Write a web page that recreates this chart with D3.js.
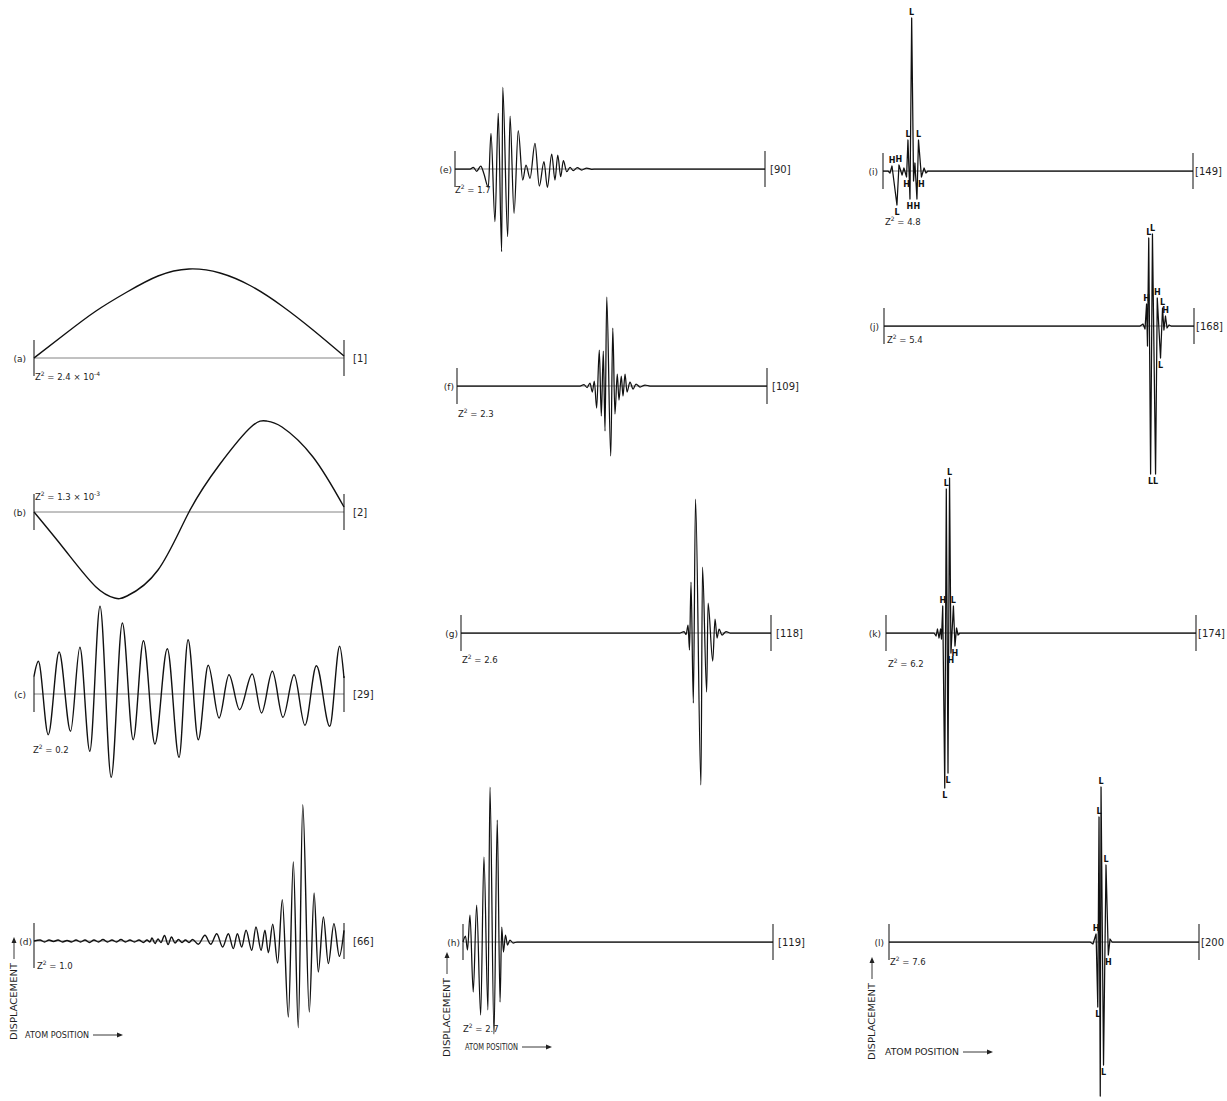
<!DOCTYPE html>
<html>
<head>
<meta charset="utf-8">
<script src="https://cdn.jsdelivr.net/npm/d3@7"></script>
<style>
  body { margin: 0; background: #fff; }
  text { font-family: 'DejaVu Sans', sans-serif; fill: #1e1e1e; }
</style>
</head>
<body>
<div id="chart"></div>
<script>
// atom position along the chain (0-200) and displacement
const atomsA = [0, 20, 40, 60, 80, 100, 120, 140, 160, 180, 200];
const dispA  = [0, 24, 47, 66, 82, 89, 85, 72, 52, 28, 2];

const atomsB = [0, 20, 40, 52, 60, 80, 100, 120, 140, 150, 160, 180, 200];
const dispB  = [0, -38, -75, -86, -84, -58, 0, 48, 85, 91, 85, 55, 5];

const atomsC = [0, 2.8, 9.2, 16.2, 23.6, 29.6, 36, 42.6, 49.8, 57, 64, 70.6, 78, 86, 93.6, 99.4, 106, 112.4, 119.4, 125.8,
                132.6, 140.8, 146.8, 153.8, 160.6, 167.8, 174.8, 182.2, 190.8, 197.2, 200];
const dispC  = [17.7, 32.7, -40.7, 42, -37.3, 46.7, -57.3, 87.7, -83.3, 71, -45.7, 53.3, -50, 45.3, -63.3, 54.3, -45.7, 28.7, -24, 19.3,
                -15.7, 20, -19, 22.7, -23.3, 19.3, -31.3, 28.3, -32.3, 47.7, 16];

const atomsD = [0, 3.9, 6.8, 9.7, 12.6, 15.5, 18.4, 21.3, 24.2, 27.1, 30, 32.9, 35.8, 38.7, 41.6, 44.5, 47.4, 50.3, 53.2, 56.1,
                59, 61.9, 64.8, 67.7, 70.6, 72.9, 74.8, 76.1, 78.1, 80, 81.9, 84.2, 86.5, 88.7, 91, 93.2, 95.5, 97.7, 100, 102.3,
                106, 110.3, 114, 117.9, 121.7, 125.4, 128.6, 131.2, 134, 136.8, 140.5, 143.2, 146.5, 149, 151.2, 154, 157.2, 160.2, 164.1, 167.3,
                170.5, 173.4, 177.6, 180.7, 183.4, 186.7, 189.9, 193.5, 197, 200];
const dispD  = [0, 1, -1, 1, -0.5, 1, -1, 0.5, -1, 1, -1, 1, -1.5, 1, -1, 1.5, -1, 1, -1, 1.5,
                -1, 1, -1, 1, -1.5, 1, -1, 3, -2.5, 2, -1.5, 5.5, -3.5, 4, -2, 1.5, -1.5, 1, -1.5, 1.5,
                -3.3, 5.7, -3.3, 7.3, -6, 7.3, -7.6, 7.3, -6, 10.7, -9.3, 14, -9.3, 10.7, -11.7, 16.7, -22, 41.4, -76, 79,
                -86.6, 136.3, -71, 48, -31, 24, -22.6, 17.4, -15.3, 10.7];

const atomsE = [0, 9.7, 11.8, 14, 16.6, 18.7, 21.5, 23.2, 25.8, 27.9, 30.1, 30.8, 34, 35.5, 38.1, 40.8, 43.7, 45.8, 48.4, 51.6,
                54.4, 57.4, 59.6, 62.4, 64.5, 66.3, 68.2, 69.9, 72.1, 74.2, 76.3, 78.9, 81.7, 85, 88.2, 91.4, 200];
const dispE  = [0, 0, 1.7, -2.3, 3, -5, -18.3, 35.7, -52.7, 55.7, -82.7, 81.7, -67.7, 53, -44.3, 38.3, -11, 4, -9.3, 25.7,
                -17, 7.3, -18.3, 15, -11, 14, -7.7, 8.3, -2.7, 1.7, -1.7, 1.3, -1, 1, -0.3, 0, 0];

const atomsF = [0, 79.4, 81.9, 83.9, 85.8, 87.3, 88.6, 90.1, 91.8, 93.1, 94.4, 95.5, 96.6, 99.2, 100.5, 101.9, 103.4, 104.5, 106, 107.1,
                108.4, 109.7, 111.6, 113.6, 115.5, 118.1, 121.3, 124.5, 200];
const dispF  = [0, 0, 1.5, -1.5, 3, -6, 5, -22, 36, -30, 35, -45, 89, -70, 58, -28, 12, -14, 10, -10,
                12, -6, 4, -3, 2, -1, 1, 0, 0];

const atomsG = [0, 141.3, 143.9, 145.2, 146.5, 147.4, 148.4, 149.9, 151.3, 154.8, 155.8, 158.5, 159.4, 162.4, 163.9, 165.2, 166.5, 168.4, 171, 173.6, 200];
const dispG  = [0, 0, 1.5, -1.5, 8, -17, 51, -70, 134, -152, 66, -59, 30, -28, 14, -5, 4, -2, 1.5, 0, 0];

const atomsH = [0, 1.6, 2.9, 4.5, 6.6, 8.8, 11.4, 13.5, 16.1, 17.4, 20, 22.1, 23.9, 25, 26.1, 27.4, 28.7, 30.3, 32.3, 34.8, 200];
const dispH  = [0, 6, -8, 27, -50, 37, -73, 85, -68, 155, -92, 122, -60, 15, -10, 7, -3, 2, -1, 0, 0];

// heavy (H) / light (L) atom marks
const atomsI = [0, 3.2, 4.5, 5.8, 9, 10.3, 12.3, 13.5, 15.2, 16.1, 17.4, 18.5, 19.7, 20.6, 21.9, 22.9, 24.8, 26.5, 27.7, 29, 200];
const dispI  = [0, 0, -2, 5, -34, 6, -4, 3, -6, 31, -28, 153, -10, 8, -28, 31, -6, 3, -2, 0, 0];
const kindI  = ['', '', '', 'H', 'L', 'H', '', '', 'H', 'L', 'H', 'L', '', '', 'H', 'L', 'H', '', '', '', ''];

const atomsJ = [0, 165.2, 167.1, 168.4, 169.4, 170, 170.8, 172, 173.2, 175.2, 176.3, 178.4, 179.7, 180.6, 181.6, 182.6, 183.9, 185.2, 200];
const dispJ  = [0, 0, 2, -3, 22, -20, 88, -148, 92, -148, 28, -32, 18, -4, 10, -2, 1, 0, 0];
const kindJ  = ['', '', '', '', 'H', '', 'L', 'L', 'L', 'L', 'H', 'L', 'L', '', 'H', '', '', '', ''];

const atomsK = [0, 31, 32.3, 33.2, 34.2, 35.2, 35.8, 36.6, 37.9, 38.9, 40, 41, 41.9, 43.5, 44.5, 45.5, 46.5, 47.7, 200];
const dispK  = [0, 0, -3, 4, -5, 4, -6, 27, -155, 144, -140, 155, -20, 27, -13, 5, -2, 0, 0];
const kindK  = ['', '', '', '', '', '', '', 'H', 'L', 'L', 'L', 'L', 'H', 'L', 'H', '', '', '', ''];

const atomsL = [0, 129.7, 131.6, 133.6, 134.7, 135.5, 136.3, 136.8, 138.4, 140, 141.5, 142.6, 143.9, 200];
const dispL  = [0, 0, -2, 8, -65, 125, -154, 155, -123, 77, -13, 3, 0, 0];
const kindL  = ['', '', '', 'H', 'L', 'L', '', 'L', 'L', 'L', 'H', '', '', ''];

// panel labels
const panelNames = ['(a)', '(b)', '(c)', '(d)', '(e)', '(f)', '(g)', '(h)', '(i)', '(j)', '(k)', '(l)'];
const modeLabels = ['[1]', '[2]', '[29]', '[66]', '[90]', '[109]', '[118]', '[119]', '[149]', '[168]', '[174]', '[200'];
const zValues    = ['2.4 × 10', '1.3 × 10', '0.2', '1.0', '1.7', '2.3', '2.6', '2.7', '4.8', '5.4', '6.2', '7.6'];
const zExponents = ['-4', '-3', '', '', '', '', '', '', '', '', '', ''];

const allAtoms = [atomsA, atomsB, atomsC, atomsD, atomsE, atomsF, atomsG, atomsH, atomsI, atomsJ, atomsK, atomsL];
const allDisp  = [dispA, dispB, dispC, dispD, dispE, dispF, dispG, dispH, dispI, dispJ, dispK, dispL];
const allKinds = [null, null, null, null, null, null, null, null, kindI, kindJ, kindK, kindL];

// layout of each panel on the page
const layout = [
  {x0: 34,  base: 358, col: 0, zx: 35,  zy: 380, smooth: true},
  {x0: 34,  base: 512, col: 0, zx: 35,  zy: 500, smooth: true},
  {x0: 34,  base: 694, col: 0, zx: 33,  zy: 753},
  {x0: 34,  base: 941, col: 0, zx: 37,  zy: 969, barLow: 27, nameDx: -2},
  {x0: 455, base: 169, col: 1, zx: 455, zy: 193},
  {x0: 457, base: 386, col: 1, zx: 458, zy: 417},
  {x0: 461, base: 633, col: 1, zx: 462, zy: 663},
  {x0: 463, base: 942, col: 1, zx: 463, zy: 1032},
  {x0: 883, base: 171, col: 2, zx: 885, zy: 225},
  {x0: 884, base: 326, col: 2, zx: 887, zy: 343},
  {x0: 886, base: 633, col: 2, zx: 888, zy: 667},
  {x0: 889, base: 942, col: 2, zx: 890, zy: 965}
];
const nameOffset = [-8, -3, -5];
const modeOffset = [9, 5, 2];
const panelWidth = 310;

const w = 1227;
const h = 1101;

const svg = d3.select('#chart')
  .append('svg')
  .attr('width', w)
  .attr('height', h)
  .style('background', '#fff');

panelNames.forEach((name, i) => {
  const L = layout[i];
  const x = d3.scaleLinear().domain([0, 200]).range([L.x0, L.x0 + panelWidth]);
  const y = d3.scaleLinear().domain([-160, 160]).range([L.base + 160, L.base - 160]);
  const g = svg.append('g').attr('class', 'panel');

  // zero line
  g.append('line')
    .attr('x1', x(0)).attr('x2', x(200))
    .attr('y1', y(0)).attr('y2', y(0))
    .attr('stroke', '#777')
    .attr('stroke-width', 0.9);

  // end bars
  [0, 200].forEach(a => {
    g.append('line')
      .attr('x1', x(a)).attr('x2', x(a))
      .attr('y1', y(0) - 18)
      .attr('y2', y(0) + (a === 0 && L.barLow ? L.barLow : 18))
      .attr('stroke', '#222')
      .attr('stroke-width', 1.1);
  });

  const pts = allAtoms[i].map((a, j) => ({atom: a, disp: allDisp[i][j], kind: allKinds[i] ? allKinds[i][j] : ''}));

  const curve = L.smooth ? d3.curveNatural : (L.col === 2 ? d3.curveLinear : d3.curveMonotoneX);
  const line = d3.line()
    .x(d => x(d.atom))
    .y(d => y(d.disp))
    .curve(curve);

  g.append('path')
    .datum(pts)
    .attr('d', line)
    .attr('fill', 'none')
    .attr('stroke', '#111')
    .attr('stroke-width', L.col === 0 ? 1.4 : 1.25)
    .attr('stroke-linejoin', 'round');

  // H / L atom marks
  g.selectAll('.kind')
    .data(pts.filter(d => d.kind))
    .enter()
    .append('text')
    .attr('class', 'kind')
    .attr('x', d => x(d.atom))
    .attr('y', d => d.disp > 0 ? y(d.disp) - 3 : y(d.disp) + 10)
    .attr('text-anchor', 'middle')
    .style('font-size', '8px')
    .style('font-weight', 'bold')
    .style('fill', '#111')
    .text(d => d.kind);

  // panel letter
  g.append('text')
    .attr('x', x(0) + (L.nameDx !== undefined ? L.nameDx : nameOffset[L.col]))
    .attr('y', y(0) + 3.5)
    .attr('text-anchor', 'end')
    .style('font-size', '9px')
    .text(name);

  // mode number
  g.append('text')
    .attr('x', x(200) + modeOffset[L.col])
    .attr('y', y(0) + 4)
    .style('font-size', '10px')
    .text(modeLabels[i]);

  // Z^2 value
  const zt = g.append('text')
    .attr('x', L.zx)
    .attr('y', L.zy)
    .style('font-size', '8.5px');
  zt.append('tspan').text('Z');
  zt.append('tspan').attr('dy', -4).style('font-size', '6px').text('2');
  zt.append('tspan').attr('dy', 4).text(' = ' + zValues[i]);
  if (zExponents[i]) {
    zt.append('tspan').attr('dy', -4).style('font-size', '6px').text(zExponents[i]);
  }
});

// axis captions for the bottom row
const captions = [
  {dx: 17,  dTop: 937, dBot: 1040, ax: 25,  ay: 1038, alen: 64},
  {dx: 450, dTop: 952, dBot: 1057, ax: 465, ay: 1050, alen: 53},
  {dx: 875, dTop: 957, dBot: 1060, ax: 885, ay: 1055, alen: 74}
];
captions.forEach(c => {
  const textLen = c.dBot - c.dTop - 26;
  svg.append('text')
    .attr('transform', 'translate(' + c.dx + ',' + c.dBot + ') rotate(-90)')
    .attr('textLength', textLen)
    .attr('lengthAdjust', 'spacingAndGlyphs')
    .style('font-size', '8.5px')
    .text('DISPLACEMENT');
  svg.append('line')
    .attr('x1', c.dx - 3).attr('x2', c.dx - 3)
    .attr('y1', c.dBot - textLen - 4).attr('y2', c.dTop + 2)
    .attr('stroke', '#222').attr('stroke-width', 0.9);
  svg.append('path')
    .attr('d', 'M' + (c.dx - 5.5) + ',' + (c.dTop + 6) + 'L' + (c.dx - 3) + ',' + c.dTop + 'L' + (c.dx - 0.5) + ',' + (c.dTop + 6) + 'Z')
    .attr('fill', '#222');

  svg.append('text')
    .attr('x', c.ax)
    .attr('y', c.ay)
    .attr('textLength', c.alen)
    .attr('lengthAdjust', 'spacingAndGlyphs')
    .style('font-size', '8.5px')
    .text('ATOM POSITION');
  const ax1 = c.ax + c.alen + 4;
  const ax2 = ax1 + 30;
  svg.append('line')
    .attr('x1', ax1).attr('x2', ax2 - 4)
    .attr('y1', c.ay - 3).attr('y2', c.ay - 3)
    .attr('stroke', '#222').attr('stroke-width', 0.9);
  svg.append('path')
    .attr('d', 'M' + (ax2 - 6) + ',' + (c.ay - 5.5) + 'L' + ax2 + ',' + (c.ay - 3) + 'L' + (ax2 - 6) + ',' + (c.ay - 0.5) + 'Z')
    .attr('fill', '#222');
});
</script>
</body>
</html>
